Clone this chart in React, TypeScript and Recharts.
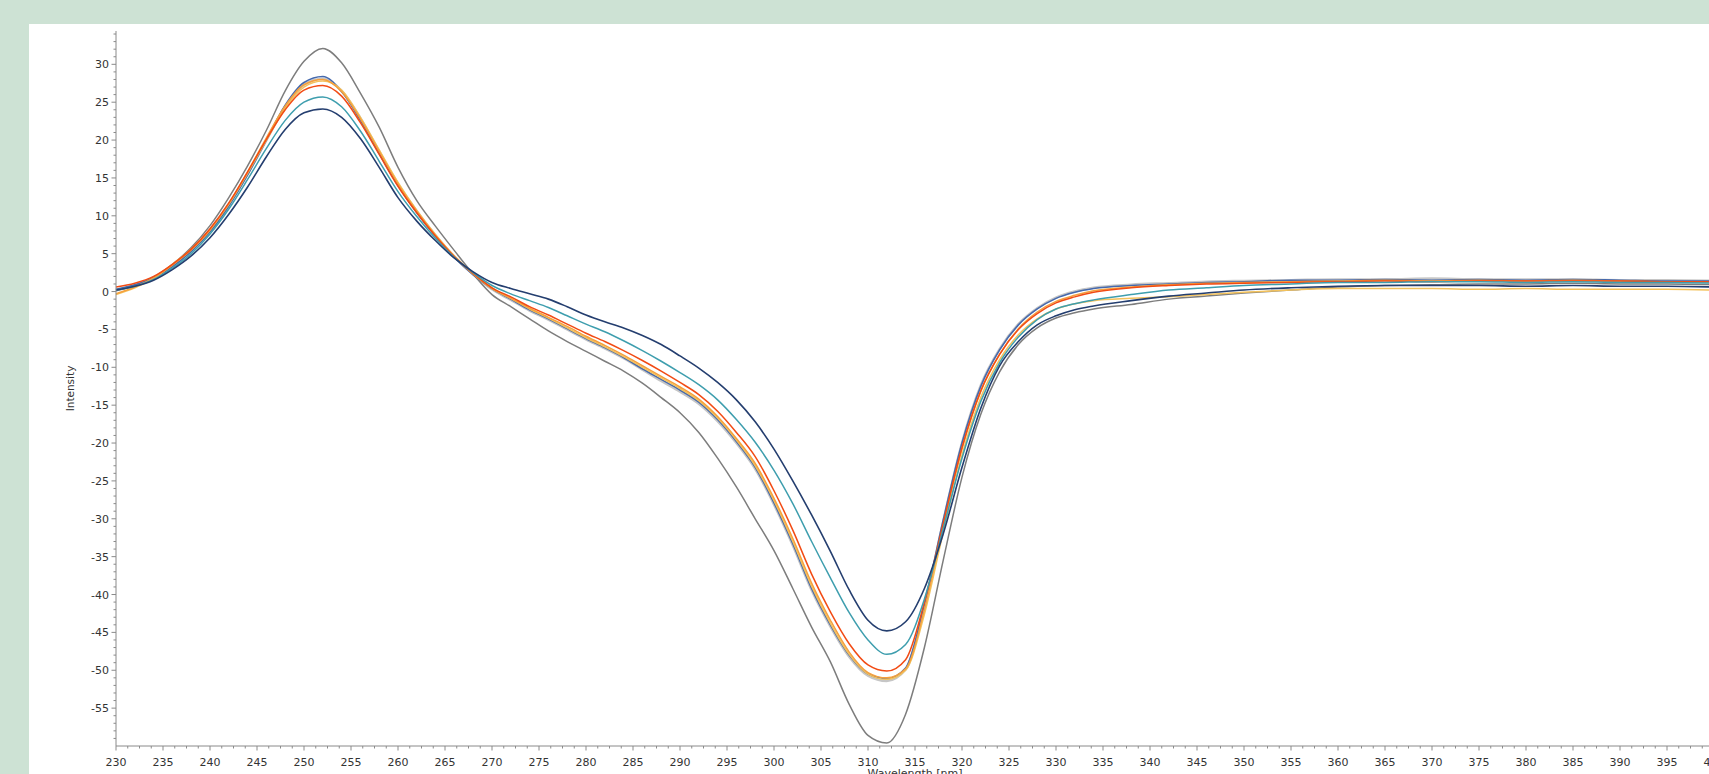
import React from "react"
import { LineChart, Line, XAxis, YAxis } from "recharts"

// wavelength grid (nm)
const WAVELENGTH = [
  230, 232, 234, 236, 238, 240, 242, 244, 246, 248, 250, 252, 254, 256, 258, 260, 262, 264, 266, 268,
  270, 272, 274, 276, 278, 280, 282, 284, 286, 288, 290, 292, 294, 296, 298, 300, 302, 304, 306, 308,
  310, 312, 314, 316, 318, 320, 322, 324, 326, 328, 330, 332, 334, 338, 342, 346, 350, 355, 360, 365,
  370, 375, 380, 385, 390, 395, 400,
]

const GRAY = [
  0.1, 0.8, 1.9, 3.6, 5.8, 8.7, 12.4, 16.6, 21.3, 26.5, 30.4, 32.1, 30.2, 26.2, 21.7, 16.4, 12.0, 8.6, 5.4, 2.3,
  -0.4, -2.0, -3.6, -5.2, -6.6, -7.9, -9.2, -10.5, -12.1, -14.0, -16.0, -18.6, -22.0, -25.8, -30.0, -34.2, -39.2, -44.3, -48.9, -54.5,
  -58.6, -59.6, -55.8, -47.0, -35.5, -24.5, -16.2, -10.6, -7.0, -4.8, -3.5, -2.8, -2.3, -1.7, -1.0, -0.6, -0.2, 0.2, 0.6, 0.8,
  0.9, 1.0, 1.0, 1.1, 1.0, 1.0, 0.9,
]

const BLUE = [
  0.3, 0.9, 1.8, 3.3, 5.3, 7.9, 11.3, 15.4, 20.0, 24.6, 27.6, 28.4, 26.4, 22.6, 18.2, 14.0, 10.4, 7.3, 4.5, 2.2,
  0.4, -1.0, -2.4, -3.6, -4.9, -6.2, -7.4, -8.7, -10.2, -11.6, -13.0, -14.6, -16.9, -19.8, -23.2, -27.9, -33.3, -39.2, -44.0, -48.0,
  -50.5, -51.1, -49.7, -41.3, -30.2, -20.0, -12.5, -7.7, -4.4, -2.3, -0.9, -0.1, 0.4, 0.8, 1.0, 1.2, 1.3, 1.5, 1.5, 1.6,
  1.5, 1.6, 1.5, 1.6, 1.5, 1.4, 1.4,
]

const SILVER = [
  0.2, 0.8, 1.8, 3.4, 5.4, 8.0, 11.4, 15.5, 20.0, 24.4, 27.3, 28.1, 26.5, 22.9, 18.5, 14.2, 10.6, 7.4, 4.6, 2.3,
  0.3, -1.1, -2.5, -3.7, -5.0, -6.3, -7.5, -8.8, -10.3, -11.8, -13.2, -14.8, -17.1, -20.0, -23.4, -28.1, -33.5, -39.4, -44.2, -48.2,
  -50.7, -51.4, -49.9, -41.6, -30.4, -20.0, -12.4, -7.6, -4.3, -2.2, -0.8, 0.0, 0.5, 0.9, 1.1, 1.3, 1.4, 1.5, 1.6, 1.6,
  1.7, 1.6, 1.6, 1.6, 1.5, 1.5, 1.4,
]

const ORANGE = [
  -0.3, 0.6, 1.8, 3.5, 5.5, 8.1, 11.6, 15.8, 20.3, 24.5, 27.3, 28.0, 26.4, 22.8, 18.5, 14.2, 10.6, 7.4, 4.6, 2.3,
  0.4, -0.9, -2.2, -3.4, -4.6, -5.9, -7.1, -8.4, -9.8, -11.2, -12.6, -14.2, -16.5, -19.4, -22.7, -27.3, -32.6, -38.5, -43.4, -47.6,
  -50.3, -51.0, -49.8, -42.0, -31.0, -20.8, -13.2, -8.3, -4.9, -2.7, -1.3, -0.5, 0.1, 0.6, 0.9, 1.1, 1.2, 1.3, 1.4, 1.5,
  1.4, 1.5, 1.4, 1.5, 1.4, 1.3, 1.3,
]

const GOLD = [
  -0.4, 0.5, 1.7, 3.6, 5.6, 8.2, 11.5, 15.6, 20.0, 24.2, 27.0, 27.8, 26.6, 23.0, 18.7, 14.4, 10.7, 7.5, 4.7, 2.4,
  0.5, -0.9, -2.3, -3.5, -4.8, -6.1, -7.3, -8.6, -10.0, -11.4, -12.8, -14.4, -16.7, -19.6, -23.0, -27.6, -33.0, -38.9, -43.8, -47.9,
  -50.5, -51.2, -50.0, -42.6, -31.8, -21.6, -14.0, -9.0, -5.7, -3.6, -2.3, -1.6, -1.2, -0.9, -0.7, -0.4, -0.1, 0.2, 0.4, 0.4,
  0.4, 0.3, 0.4, 0.3, 0.3, 0.3, 0.2,
]

const RED = [
  0.6, 1.1, 2.0, 3.6, 5.6, 8.3, 11.7, 15.8, 20.1, 24.0, 26.6, 27.2, 25.8, 22.3, 18.1, 13.9, 10.4, 7.3, 4.6, 2.4,
  0.5, -0.7, -2.0, -3.1, -4.3, -5.5, -6.6, -7.8, -9.1, -10.5, -12.0, -13.6, -15.8, -18.6, -21.8, -26.3, -31.5, -37.3, -42.3, -46.5,
  -49.3, -50.1, -48.6, -41.0, -30.6, -20.6, -13.1, -8.3, -5.0, -2.9, -1.5, -0.7, -0.1, 0.5, 0.8, 1.0, 1.1, 1.2, 1.3, 1.4,
  1.3, 1.4, 1.4, 1.4, 1.4, 1.3, 1.3,
]

const TEAL = [
  0.2, 0.7, 1.6, 3.1, 5.0, 7.6, 10.9, 14.8, 18.9, 22.6, 25.0, 25.7, 24.4, 21.2, 17.2, 13.2, 9.9, 7.0, 4.5, 2.5,
  0.8, -0.3, -1.2, -2.1, -3.2, -4.3, -5.3, -6.5, -7.8, -9.2, -10.7, -12.3, -14.3, -16.9, -19.9, -23.6, -28.0, -33.0, -37.8, -42.4,
  -46.0, -47.9, -46.6, -40.6, -31.3, -22.0, -14.5, -9.4, -6.0, -3.7, -2.3, -1.6, -1.1, -0.4, 0.2, 0.5, 0.8, 1.0, 1.2, 1.2,
  1.3, 1.3, 1.2, 1.3, 1.2, 1.2, 1.1,
]

const NAVY = [
  0.2, 0.7, 1.5, 2.9, 4.7, 7.1, 10.2, 13.8, 17.8, 21.4, 23.6, 24.1, 23.0, 20.2, 16.4, 12.4, 9.3, 6.7, 4.4, 2.6,
  1.2, 0.4, -0.3, -1.0, -2.0, -3.1, -4.0, -4.8, -5.8, -7.0, -8.5, -10.1, -12.0, -14.3, -17.2, -20.8, -25.0, -29.5, -34.3, -39.4,
  -43.4, -44.8, -43.6, -39.2, -32.0, -23.2, -15.4, -9.8, -6.6, -4.4, -3.2, -2.4, -1.9, -1.2, -0.6, -0.2, 0.2, 0.5, 0.7, 0.8,
  0.8, 0.8, 0.7, 0.8, 0.7, 0.7, 0.6,
]

// drawing order: silver halo first, navy on top
const SERIES = [
  { key: "silver", values: SILVER, color: "#c6c6c6", width: 2.6 },
  { key: "gray", values: GRAY, color: "#7d7d7d", width: 1.5 },
  { key: "blue", values: BLUE, color: "#4569ad", width: 1.6 },
  { key: "gold", values: GOLD, color: "#f3c25c", width: 1.5 },
  { key: "orange", values: ORANGE, color: "#f6a03c", width: 1.5 },
  { key: "red", values: RED, color: "#f24b14", width: 1.5 },
  { key: "teal", values: TEAL, color: "#3e9eae", width: 1.5 },
  { key: "navy", values: NAVY, color: "#243e6f", width: 1.6 },
]

const X_MAJOR = [230, 235, 240, 245, 250, 255, 260, 265, 270, 275, 280, 285, 290, 295, 300, 305, 310, 315,
  320, 325, 330, 335, 340, 345, 350, 355, 360, 365, 370, 375, 380, 385, 390, 395, 400]
const Y_MAJOR = [30, 25, 20, 15, 10, 5, 0, -5, -10, -15, -20, -25, -30, -35, -40, -45, -50, -55]

// minor ticks: 4 per x label step, 1 unit on y
const X_TICKS: number[] = []
for (let i = 0; i < X_MAJOR.length - 1; i++) {
  for (let k = 0; k < 4; k++) X_TICKS.push(X_MAJOR[i] + k * 1.25)
}
X_TICKS.push(400)
const Y_TICKS: number[] = []
for (let v = -59; v <= 34; v++) Y_TICKS.push(v)

const data = WAVELENGTH.map((nm, i) => {
  const row: Record<string, number> = { nm }
  SERIES.forEach((s) => (row[s.key] = s.values[i]))
  return row
})

const FONT = "'DejaVu Sans', Verdana, sans-serif"
const AXIS = "#8a8a8a"

function XTick({ x, y, payload }: any) {
  const major = X_MAJOR.includes(payload.value)
  return (
    <g>
      <line x1={x} x2={x} y1={y} y2={y + (major ? 4.5 : 2.5)} stroke={AXIS} />
      {major && (
        <text x={x} y={y + 20} textAnchor="middle" fontSize={11} fontFamily={FONT} fill="#333">
          {payload.value}
        </text>
      )}
    </g>
  )
}

function YTick({ x, y, payload }: any) {
  const major = Y_MAJOR.includes(payload.value)
  return (
    <g>
      <line x1={x - (major ? 4.5 : 2.5)} x2={x} y1={y} y2={y} stroke={AXIS} />
      {major && (
        <text x={x - 7} y={y + 4} textAnchor="end" fontSize={11} fontFamily={FONT} fill="#333">
          {payload.value}
        </text>
      )}
    </g>
  )
}

export default function App() {
  return (
    <div style={{ position: "relative", width: 1709, height: 774, overflow: "hidden", background: "#cde2d4" }}>
      <style>{"body{margin:0}"}</style>
      <div style={{ position: "absolute", left: 29, top: 24, width: 1680, height: 750, background: "#fff" }} />
      <div style={{ position: "absolute", left: 29, top: 24 }}>
        <LineChart width={1700} height={760} data={data} margin={{ top: 7, right: 15, bottom: 7, left: 0 }}>
          <XAxis
            dataKey="nm"
            type="number"
            domain={[230, 400]}
            ticks={X_TICKS}
            interval={0}
            tickSize={0}
            tickMargin={0}
            tick={<XTick />}
            height={31}
            stroke={AXIS}
            label={{ value: "Wavelength [nm]", position: "insideBottom", offset: 0, fontSize: 11, fontFamily: FONT, fill: "#333" }}
          />
          <YAxis
            type="number"
            domain={[-60, 34.4]}
            ticks={Y_TICKS}
            interval={0}
            tickSize={0}
            tickMargin={0}
            tick={<YTick />}
            width={87}
            stroke={AXIS}
            label={{ value: "Intensity", angle: -90, position: "center", dx: -2, fontSize: 10.5, fontFamily: FONT, fill: "#333" }}
          />
          {SERIES.map((s) => (
            <Line
              key={s.key}
              dataKey={s.key}
              type="monotone"
              stroke={s.color}
              strokeWidth={s.width}
              dot={false}
              activeDot={false}
              isAnimationActive={false}
            />
          ))}
        </LineChart>
      </div>
    </div>
  )
}
